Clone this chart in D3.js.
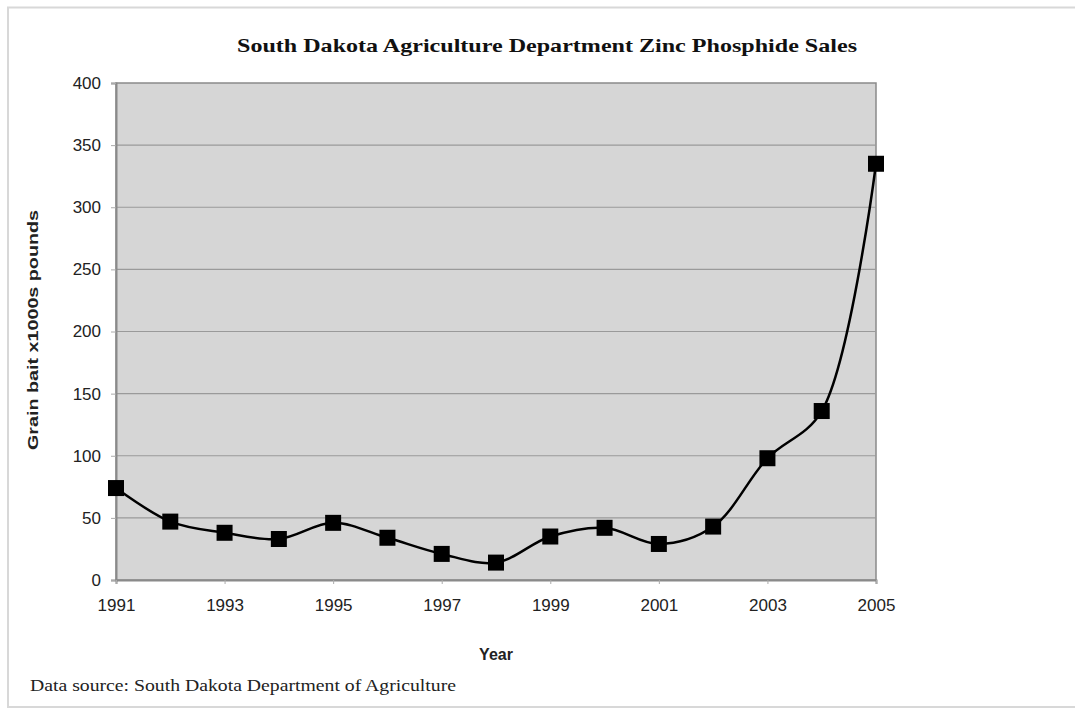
<!DOCTYPE html>
<html><head><meta charset="utf-8">
<script src="https://cdn.jsdelivr.net/npm/d3@7"></script>
<style>body{margin:0;background:#fff}svg{display:block}</style>
</head><body>
<script>
const years = [1991,1992,1993,1994,1995,1996,1997,1998,1999,2000,2001,2002,2003,2004,2005];
const sales = [74,47,38,33,46,34,21,14,35,42,29,43,98,136,335];
const yTicks = [0,50,100,150,200,250,300,350,400];
const xTickYears = [1991,1993,1995,1997,1999,2001,2003,2005];
const title = "South Dakota Agriculture Department Zinc Phosphide Sales";
const source = "Data source: South Dakota Department of Agriculture";

const W=1075,H=709;
const svg=d3.select("body").append("svg").attr("width",W).attr("height",H);
// outer frame
svg.append("rect").attr("x",8).attr("y",7.5).attr("width",1080).attr("height",699.5)
  .attr("fill","none").attr("stroke","#d8d8d8").attr("stroke-width",2);

const L=116,R=876,T=83,B=580;
const x=d3.scaleLinear().domain([1991,2005]).range([L,R]);
const y=d3.scaleLinear().domain([0,400]).range([B,T]);

svg.append("rect").attr("x",L).attr("y",T).attr("width",R-L).attr("height",B-T)
  .attr("fill","#d6d6d6").attr("stroke","#8a8a8a").attr("stroke-width",1.5);

svg.append("g").selectAll("line").data(yTicks.filter(d=>d>0&&d<400)).join("line")
  .attr("x1",L).attr("x2",R).attr("y1",d=>y(d)).attr("y2",d=>y(d))
  .attr("stroke","#9a9a9a").attr("stroke-width",1.2);

// axes
const yAxis=svg.append("g").attr("transform",`translate(${L},0)`)
  .call(d3.axisLeft(y).tickValues(yTicks).tickSize(5).tickPadding(10));
const xAxis=svg.append("g").attr("transform",`translate(0,${B})`)
  .call(d3.axisBottom(x).tickValues(xTickYears).tickFormat(d3.format("d")).tickSize(4).tickPadding(15));
[yAxis,xAxis].forEach(g=>{
  g.select(".domain").attr("stroke","#8a8a8a").attr("stroke-width",2);
  g.selectAll(".tick line").attr("stroke","#aaa");
  g.selectAll("text").attr("font-family","Liberation Sans, Arial, sans-serif")
    .attr("font-size",17).attr("fill","#222");
});

const line=d3.line().x((d,i)=>x(years[i])).y(d=>y(d)).curve(d3.curveCatmullRom.alpha(0.5));
svg.append("path").datum(sales).attr("d",line).attr("fill","none")
  .attr("stroke","#000").attr("stroke-width",2.5);

svg.append("g").selectAll("rect").data(sales).join("rect")
  .attr("x",(d,i)=>x(years[i])-8).attr("y",d=>y(d)-8).attr("width",16).attr("height",16)
  .attr("fill","#000");

svg.append("text").attr("x",237).attr("y",52)
  .attr("textLength",620).attr("lengthAdjust","spacingAndGlyphs")
  .attr("font-family","Liberation Serif, Times New Roman, serif").attr("font-weight","bold")
  .attr("font-size",19).attr("fill","#111").text(title);

svg.append("text").attr("transform","translate(38,330) rotate(-90)").attr("text-anchor","middle")
  .attr("textLength",240).attr("lengthAdjust","spacingAndGlyphs")
  .attr("font-family","Liberation Sans, Arial, sans-serif").attr("font-weight","bold")
  .attr("font-size",15).attr("fill","#222").text("Grain bait x1000s pounds");

svg.append("text").attr("x",496).attr("y",660).attr("text-anchor","middle")
  .attr("font-family","Liberation Sans, Arial, sans-serif").attr("font-weight","bold")
  .attr("font-size",16).attr("fill","#222").text("Year");

svg.append("text").attr("x",30).attr("y",691)
  .attr("textLength",426).attr("lengthAdjust","spacingAndGlyphs")
  .attr("font-family","Liberation Serif, Times New Roman, serif")
  .attr("font-size",16).attr("fill","#222").text(source);
</script>
</body></html>
